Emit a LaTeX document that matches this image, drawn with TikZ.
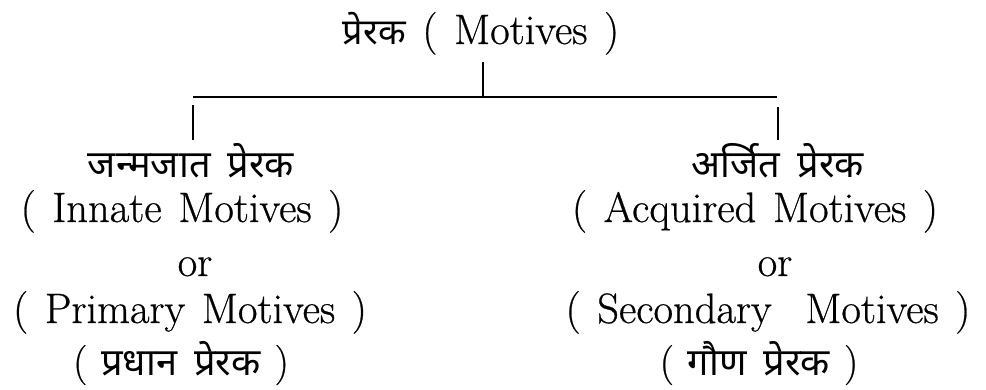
\documentclass[tikz,border=0pt]{standalone}
\usepackage{fontspec}
\usetikzlibrary{calc}
\newfontfamily\hindi[Script=Devanagari]{Noto Sans}
\newfontfamily\engf{Latin Modern Roman}[FakeBold=0.6,WordSpace=1.3]
\newcommand{\hgap}{\hspace{0.45em}}
\newcommand{\lp}{{\engf\fontsize{40}{46}\selectfont(\hspace{0.35em}}}
\newcommand{\rp}{{\engf\fontsize{40}{46}\selectfont\hspace{0.35em})}}
\begin{document}
\begin{tikzpicture}[x=1pt,y=-1pt,
  eng/.style={anchor=base,inner sep=0pt,font=\engf\fontsize{42.5}{50}\selectfont},
  hin/.style={anchor=base,inner sep=0pt,font=\hindi\fontsize{38}{44}\selectfont},
  conn/.style={line width=2pt}]
\useasboundingbox (0,0) rectangle (986,389);
% title
\node[eng] (t) at (481,44) {{\hindi\fontsize{36}{42}\selectfont प्रेरक} ( Motives )};
% left branch
\node[hin] (l1) at (191,177) {जन्मजात\hgap प्रेरक};
\node[eng] (l2) at (182,222) {( Innate Motives )};
\node[eng] (l3) at (195,276) {or};
\node[eng] (l4) at (190,323) {( Primary Motives )};
\node[hin] (l5) at (181,375) {\lp प्रधान\hgap प्रेरक\rp};
% right branch
\node[hin] (r1) at (778,177) {अर्जित\hgap प्रेरक};
\node[eng] (r2) at (755,222) {( Acquired Motives )};
\node[eng] (r3) at (775,276) {or};
\node[eng] (r4) at (768,323) {( Secondary\hspace{0.4em} Motives )};
\node[hin] (r5) at (759,375) {\lp गौण\hgap प्रेरक\rp};
% connectors
\coordinate (ts) at (483,62);
\coordinate (jt) at (483,97);
\coordinate (jl) at (193,97);
\coordinate (jr) at (777,97);
\coordinate (dl) at (193,140);
\coordinate (dr) at (778,140);
\draw[conn] (ts) -- (jt);
\draw[conn] (jl) -- (jr);
\draw[conn] ($(jl)+(0,8)$) -- (dl);
\draw[conn] ($(jr)+(1,10)$) -- (dr);
\end{tikzpicture}
\end{document}
